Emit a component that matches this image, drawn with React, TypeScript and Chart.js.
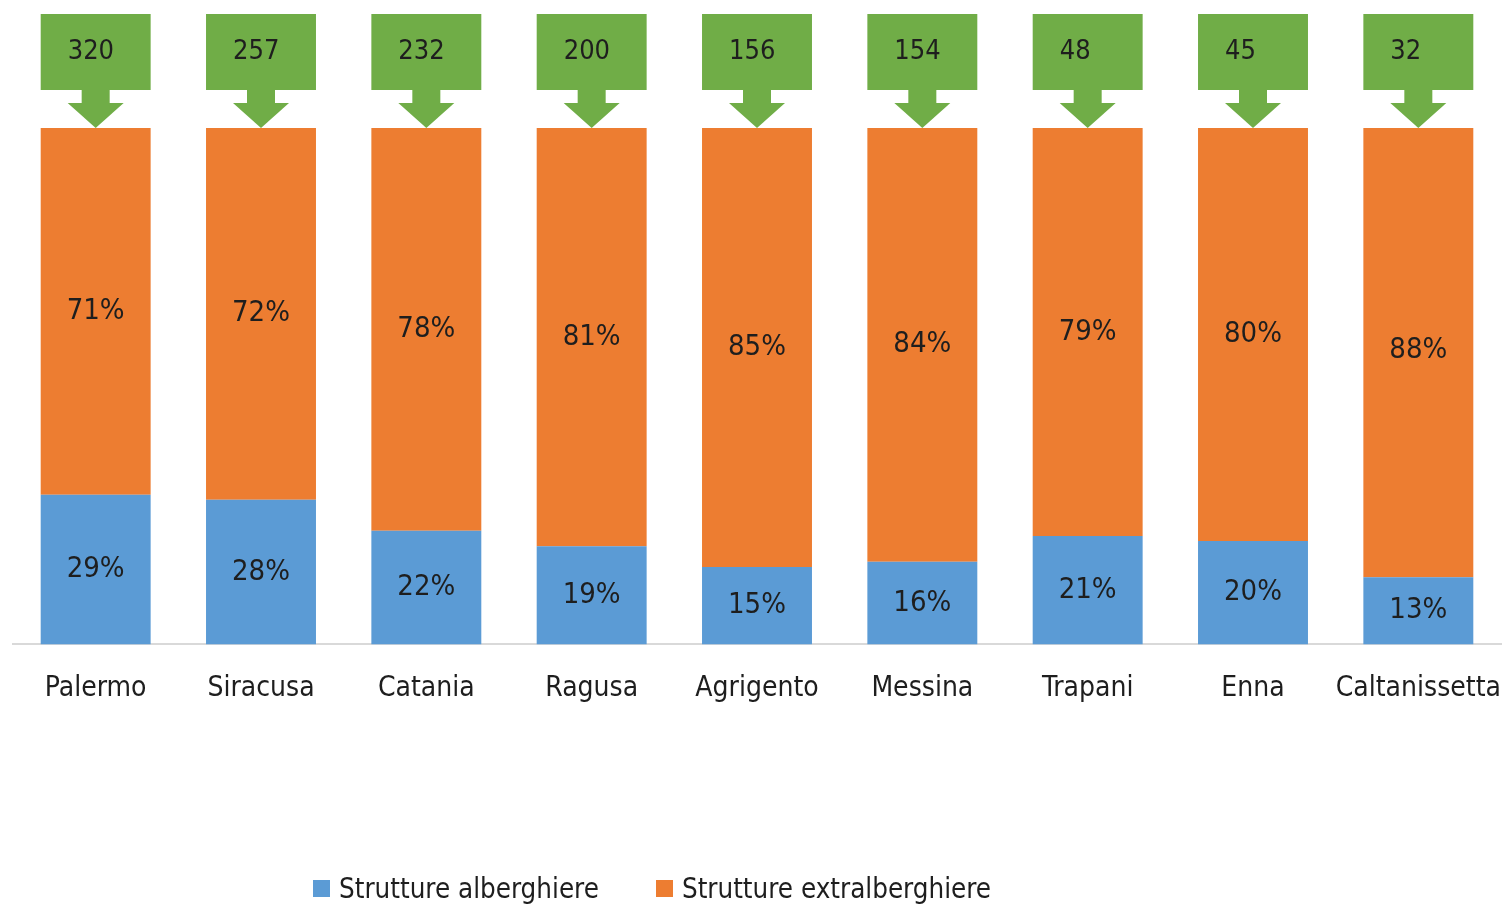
import React, { useEffect, useRef } from "react";
import { Chart, registerables } from "chart.js";

Chart.register(...registerables);

const categories = ["Palermo", "Siracusa", "Catania", "Ragusa", "Agrigento", "Messina", "Trapani", "Enna", "Caltanissetta"];
const alberghiere = [29, 28, 22, 19, 15, 16, 21, 20, 13];
const extralberghiere = [71, 72, 78, 81, 85, 84, 79, 80, 88];
const totals = [320, 257, 232, 200, 156, 154, 48, 45, 32];
const seriesNames = ["Strutture alberghiere", "Strutture extralberghiere"];
const seriesColors = ["#5b9bd5", "#ed7d31"];
const calloutColor = "#70ad47";

const FONT = '"Liberation Sans Narrow", "Arial Narrow", "DejaVu Sans Condensed", sans-serif';
const TEXT = "#1e1e1e";

const segmentLabels = {
  id: "segmentLabels",
  afterDatasetsDraw(chart: any) {
    const ctx = chart.ctx;
    ctx.save();
    ctx.font = `29px ${FONT}`;
    ctx.fillStyle = TEXT;
    ctx.textAlign = "center";
    ctx.textBaseline = "middle";
    chart.data.datasets.forEach((ds: any, di: number) => {
      const meta = chart.getDatasetMeta(di);
      meta.data.forEach((el: any, i: number) => {
        const cy = (el.y + el.base) / 2;
        ctx.fillText(ds.data[i] + "%", el.x, cy);
      });
    });
    ctx.restore();
  },
};

const callouts = {
  id: "callouts",
  afterDatasetsDraw(chart: any) {
    const ctx = chart.ctx;
    const top = chart.scales.y.getPixelForValue(100);
    const meta = chart.getDatasetMeta(1);
    ctx.save();
    meta.data.forEach((el: any, i: number) => {
      const w = el.width;
      const left = el.x - w / 2;
      const rectTop = top - 114;
      const rectBottom = top - 38;
      const shaftBottom = top - 25;
      ctx.fillStyle = calloutColor;
      ctx.fillRect(left, rectTop, w, rectBottom - rectTop);
      ctx.fillRect(el.x - 14, rectBottom - 1, 28, shaftBottom - rectBottom + 2);
      ctx.beginPath();
      ctx.moveTo(el.x - 28, shaftBottom);
      ctx.lineTo(el.x + 28, shaftBottom);
      ctx.lineTo(el.x, top);
      ctx.closePath();
      ctx.fill();
      ctx.fillStyle = TEXT;
      ctx.font = `27px ${FONT}`;
      ctx.textAlign = "left";
      ctx.textBaseline = "middle";
      ctx.fillText(String(totals[i]), left + 27, (rectTop + rectBottom) / 2);
    });
    ctx.restore();
  },
};

export default function App() {
  const canvasRef = useRef<HTMLCanvasElement | null>(null);

  useEffect(() => {
    if (!canvasRef.current) return;
    const chart = new Chart(canvasRef.current, {
      type: "bar",
      data: {
        labels: categories,
        datasets: [
          {
            label: seriesNames[0],
            data: alberghiere,
            backgroundColor: seriesColors[0],
            barPercentage: 0.665,
            categoryPercentage: 1,
          },
          {
            label: seriesNames[1],
            data: extralberghiere,
            backgroundColor: seriesColors[1],
            barPercentage: 0.665,
            categoryPercentage: 1,
          },
        ],
      },
      options: {
        animation: false,
        responsive: true,
        maintainAspectRatio: false,
        layout: { padding: { top: 128, left: 13, right: 8, bottom: 175 } },
        plugins: {
          legend: { display: false },
          tooltip: { enabled: false },
        },
        scales: {
          x: {
            stacked: true,
            grid: { display: false, drawTicks: false },
            border: { display: true, color: "#d9d9d9", width: 2 },
            ticks: {
              color: TEXT,
              padding: 28,
              font: { family: FONT, size: 28 },
              maxRotation: 0,
              autoSkip: false,
            },
            afterFit(scale: any) {
              scale.paddingLeft = 0;
              scale.paddingRight = 0;
            },
          },
          y: {
            stacked: true,
            display: false,
            min: 0,
            max: 100,
          },
        },
      },
      plugins: [segmentLabels, callouts],
    });
    return () => chart.destroy();
  }, []);

  return (
    <div style={{ position: "absolute", left: 0, top: 0, width: 1509, height: 909, background: "#fff" }}>
      <canvas ref={canvasRef} />
      <div
        style={{
          position: "absolute",
          left: 313,
          top: 866,
          display: "flex",
          alignItems: "center",
          fontFamily: FONT,
          fontSize: 27.5,
          color: TEXT,
          lineHeight: "44px",
        }}
      >
        {seriesNames.map((name, i) => (
          <div key={name} style={{ display: "flex", alignItems: "center", marginRight: i === 0 ? 57 : 0 }}>
            <span style={{ display: "inline-block", width: 17, height: 17, background: seriesColors[i], marginRight: 9 }} />
            <span>{name}</span>
          </div>
        ))}
      </div>
    </div>
  );
}
